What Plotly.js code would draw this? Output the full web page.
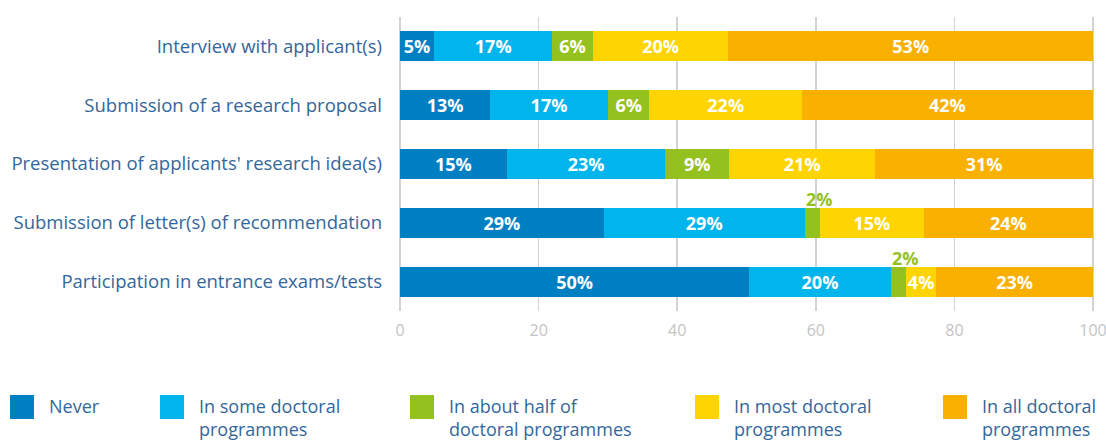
<!DOCTYPE html>
<html>
<head>
<meta charset="utf-8">
<script src="https://cdn.plot.ly/plotly-3.0.1.min.js"></script>
<style>html,body{margin:0;padding:0;background:#fff;}#chart{width:1106px;height:441px;}</style>
</head>
<body>
<div id="chart"></div>
<script>
const categories = [
  "Interview with applicant(s)",
  "Submission of a research proposal",
  "Presentation of applicants' research idea(s)",
  "Submission of letter(s) of recommendation",
  "Participation in entrance exams/tests"
];
const seriesNames = ["Never", "In some doctoral<br>programmes", "In about half of<br>doctoral programmes", "In most doctoral<br>programmes", "In all doctoral<br>programmes"];
const seriesColors = ["#0080c3", "#00b5ec", "#95c11f", "#ffd400", "#f9b000"];
// shares (%); labels show them rounded
const never = [4.9, 13, 15.4, 29.4, 50.4];
const some = [17.1, 17, 22.9, 29.0, 20.4];
const half = [5.8, 6, 9.2, 2.2, 2.2];
const most = [19.6, 22, 21.1, 15.0, 4.4];
const all = [52.6, 42, 31.4, 24.4, 22.6];
const xTicks = [0, 20, 40, 60, 80, 100];

const seriesValues = [never, some, half, most, all];
const labelFont = "'Open Sans', 'Noto Sans', sans-serif";
const textBlue = "#33679b";

const plotTop = 17, plotH = 294, plotL = 399, plotW = 695;
function py(pix) { return 1 - (pix - plotTop) / plotH; }
function px(pix) { return (pix - plotL) / plotW; }

const traces = [];
const annotations = [];
const shapes = [];
const cum = categories.map(() => 0);

seriesValues.forEach((vals, si) => {
  const texts = vals.map(v => v < 3 ? "" : Math.round(v) + "%");
  traces.push({
    type: "bar",
    orientation: "h",
    y: categories,
    x: vals,
    name: seriesNames[si],
    marker: {color: seriesColors[si], line: {width: 0}},
    text: texts,
    texttemplate: "%{text}",
    textposition: "inside",
    insidetextanchor: "middle",
    textangle: 0,
    constraintext: "none",
    textfont: {family: labelFont, size: 18, color: "#ffffff", weight: "bold"},
    hoverinfo: "x+y+name",
    showlegend: false
  });
  vals.forEach((v, ci) => {
    if (v < 3) {
      annotations.push({
        x: cum[ci], y: categories[ci], xref: "x", yref: "y",
        text: Math.round(v) + "%", showarrow: false, xanchor: "left", yanchor: "middle",
        yshift: 24, xshift: -1,
        font: {family: labelFont, size: 18, color: seriesColors[si], weight: "bold"}
      });
    }
    cum[ci] += v;
  });
});

// legend: squares + two-line labels
const legendSquareX = [10, 160, 410, 695, 943];
seriesNames.forEach((n, i) => {
  shapes.push({
    type: "rect", xref: "paper", yref: "paper",
    x0: px(legendSquareX[i]), x1: px(legendSquareX[i] + 24),
    y0: py(419), y1: py(395),
    fillcolor: seriesColors[i], line: {width: 0}
  });
  annotations.push({
    xref: "paper", yref: "paper",
    x: px(legendSquareX[i] + 37), y: py(392),
    xanchor: "left", yanchor: "top", align: "left",
    text: n, showarrow: false,
    font: {family: labelFont, size: 18, color: textBlue}
  });
});

const layout = {
  width: 1106, height: 441,
  margin: {l: plotL, r: 1106 - plotL - plotW, t: plotTop, b: 441 - plotTop - plotH, pad: 0},
  barmode: "stack",
  bargap: 0.49,
  paper_bgcolor: "#ffffff",
  plot_bgcolor: "#ffffff",
  showlegend: false,
  xaxis: {
    range: [-0.15, 100.15],
    tickvals: xTicks,
    ticktext: xTicks.map(String),
    showgrid: true, gridcolor: "#d2d2d2", gridwidth: 1.5,
    zeroline: false, showline: false,
    ticks: "", ticklabelstandoff: 8,
    ticklabeloverflow: "allow",
    tickfont: {family: labelFont, size: 16, color: "#c4c4c4"},
    automargin: false,
    fixedrange: true
  },
  yaxis: {
    range: [4.5, -0.5],
    showgrid: false, zeroline: false, showline: false,
    ticks: "", ticklabelstandoff: 16,
    tickfont: {family: labelFont, size: 18.5, color: textBlue},
    automargin: false,
    fixedrange: true
  },
  annotations: annotations,
  shapes: shapes,
  font: {family: labelFont}
};

Plotly.newPlot("chart", traces, layout, {displayModeBar: false, staticPlot: true});
</script>
</body>
</html>
